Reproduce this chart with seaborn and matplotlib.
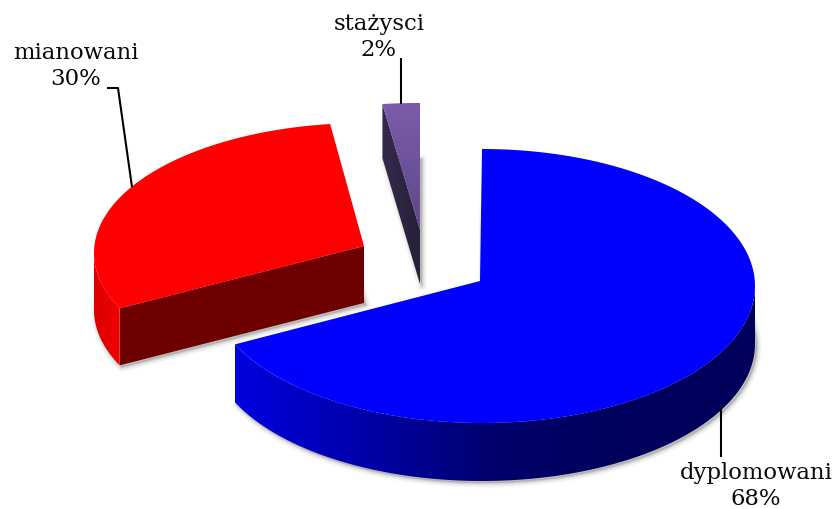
#!/usr/bin/env python3
"""Exploded 3D look pie of teacher grades, drawn on a pixel sized axes."""

import matplotlib

matplotlib.use("Agg")
import matplotlib.pyplot as plt
import numpy as np
import seaborn as sns
from matplotlib.patches import Polygon

CATEGORIES = ["dyplomowani", "mianowani", "stażysci"]
SHARES = [68, 30, 2]

WIDTH, HEIGHT = 839, 509

# how each exploded slice sits on the canvas, all in pixels
SLICE_GEOMETRY = {
    "dyplomowani": dict(cx=482, cy=286, rx=273, ry=137, apex=(480, 281), depth=58),
    "mianowani": dict(cx=364, cy=253, rx=270, ry=130, apex=(364, 246), depth=57),
    "stażysci": dict(cx=420, cy=230, rx=300, ry=127, apex=(420, 230), depth=54),
}
SLICE_STYLE = {
    "dyplomowani": dict(top=["#0000ff", "#0000ff"], rim=["#0000e0", "#0000a8", "#00006c", "#00005c", "#00005c"]),
    "mianowani": dict(top=["#ff0000", "#ff0000"], rim=["#dc0000", "#f00000"], cut=["#6e0000", "#6e0000"]),
    "stażysci": dict(top=["#7c5caa", "#5e4887"], rim=["#2e2440", "#2e2440"], cut=["#352a4c", "#272038"]),
}
LABEL_POS = {"dyplomowani": (756, 486), "mianowani": (76, 66), "stażysci": (379, 37)}
LEADERS = {
    "dyplomowani": [(721, 408), (721, 457)],
    "mianowani": [(107, 88), (118, 88), (132, 187)],
    "stażysci": [(401, 58), (401, 104)],
}


def rim(geo, a0, a1, n=160):
    a = np.radians(np.linspace(a0, a1, n))
    return np.column_stack([geo["cx"] + geo["rx"] * np.cos(a), geo["cy"] - geo["ry"] * np.sin(a)])


def fill_gradient(ax, pts, colors, vertical=False, zorder=2):
    # gradient image clipped down to the polygon
    cmap = sns.blend_palette(colors, as_cmap=True)
    x0, x1, y0, y1 = pts[:, 0].min(), pts[:, 0].max(), pts[:, 1].min(), pts[:, 1].max()
    ramp = np.linspace(0, 1, 256)
    ramp = ramp[:, None] if vertical else ramp[None, :]
    im = ax.imshow(ramp, cmap=cmap, extent=(x0, x1, y1, y0), aspect="auto", zorder=zorder, interpolation="bilinear")
    clip = Polygon(pts, closed=True, transform=ax.transData, facecolor="none", edgecolor="none")
    ax.add_patch(clip)
    im.set_clip_path(clip)


def soft_shadow(ax, pts):
    for lw, alpha in [(7, 0.05), (5, 0.08), (3, 0.12), (1.5, 0.18)]:
        ax.add_patch(
            Polygon(pts + (2, 2), closed=True, facecolor="#808080", edgecolor="#808080",
                    linewidth=lw, alpha=alpha, joinstyle="round", zorder=1)
        )


def draw_slice(ax, name, a0, a1):
    geo = SLICE_GEOMETRY[name]
    style = SLICE_STYLE[name]
    down = np.array([0, geo["depth"]])
    arc = rim(geo, a0, a1)
    apex = np.array(geo["apex"], dtype=float)
    top_face = np.vstack([apex, arc])

    soft_shadow(ax, top_face + down)

    # outer wall, only the part turned towards the viewer
    lo, hi = sorted([a0, a1])
    for w0, w1 in [(max(lo, k - 180), min(hi, k)) for k in (0, 360)]:
        if w1 > w0:
            wall = rim(geo, w0, w1)
            fill_gradient(ax, np.vstack([wall, wall[::-1] + down]), style["rim"])

    # cut face, visible on slices whose edge faces forward
    if "cut" in style:
        cut = np.vstack([arc[0], apex, apex + down, arc[0] + down])
        fill_gradient(ax, cut, style["cut"])

    fill_gradient(ax, top_face, style["top"], vertical=True, zorder=3)


def main() -> None:
    sns.set_theme(style="white")
    plt.rcParams["font.family"] = ["DejaVu Serif"]

    fig = plt.figure(figsize=(WIDTH / 100, HEIGHT / 100), dpi=100)
    ax = fig.add_axes([0, 0, 1, 1])

    # clockwise from twelve o'clock, angles come from the shares
    edges = 90 - np.cumsum([0] + SHARES) * 3.6
    for name, a0, a1 in zip(CATEGORIES, edges[:-1], edges[1:]):
        if a0 < -90:
            a0, a1 = a0 + 360, a1 + 360
        draw_slice(ax, name, a0, a1)

    for name, share in zip(CATEGORIES, SHARES):
        x, y = LABEL_POS[name]
        ax.text(x, y, f"{name}\n{share}%", ha="center", va="center", multialignment="center",
                fontsize=16.4, color="#0a0a0a", linespacing=1.27, zorder=6)
        pts = np.array(LEADERS[name])
        ax.plot(pts[:, 0], pts[:, 1], color="black", lw=1.5, zorder=5, solid_capstyle="butt")

    ax.set_xlim(0, WIDTH)
    ax.set_ylim(HEIGHT, 0)
    ax.axis("off")
    fig.savefig("out.png", dpi=100, facecolor="white")


if __name__ == "__main__":
    main()
